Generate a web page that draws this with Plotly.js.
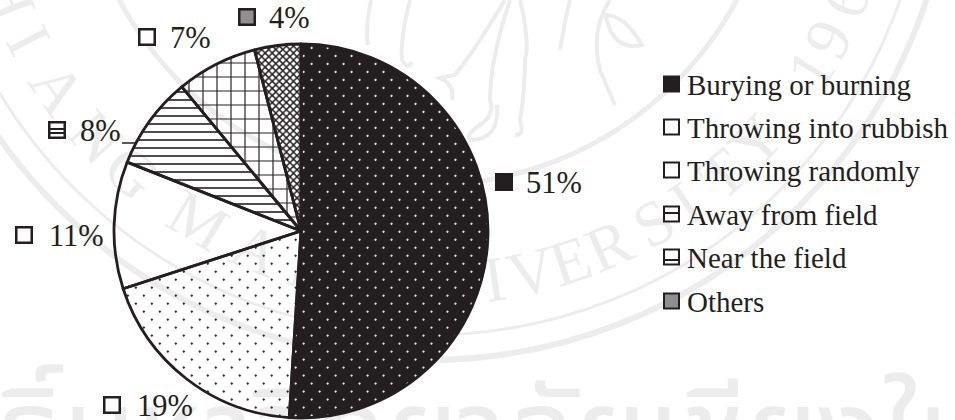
<!DOCTYPE html>
<html><head><meta charset="utf-8">
<script src="https://cdn.plot.ly/plotly-3.0.1.min.js"></script>
<style>html,body{margin:0;padding:0;background:#fff}#chart{width:955px;height:420px}</style>
</head><body><div id="chart"></div>
<script>
const categories = ["Burying or burning","Throwing into rubbish","Throwing randomly","Away from field","Near the field","Others"];
const shares = [51,19,11,8,7,4];
const clear = "rgba(255,255,255,0)";
const ink = "#231f20";
const shapesOfFill = [".",".","","-","+","x"];
const backgrounds = [ink,clear,clear,clear,clear,clear];
const foregrounds = ["#e8e8e8",ink,ink,ink,ink,ink];
const fillSizes = [11.3,11.3,8,8,14,5];
const fillSolidity = [0.03,0.03,0.1,0.2,0.16,0.5];
const labelX = [495,103,15,48,138,238];
const labelTextX = [525,136,48,79,169,268];
const labelY = [182,405,235,130,37,17];
const legendY = [84,127,170,214,257,301];
const serif = "Liberation Serif";
const W = 955, H = 420;

// University seal printed behind the chart
const sealX = 428, sealY = -165, sealInk = "#ececec";
const sealRings = [[525,6],[500,3],[350,5]];
const sealLetters = [["C",-75],["H",-69],["I",-62.8],["A",-55.6],["N",-47.7],["G",-41.3],["M",-30.8],["A",-22.5],["I",-16.5],["U",-8],["N",2],["I",8.5],["V",13.3],["E",18.5],["R",23.8],["S",30.2],["I",35],["T",41],["Y",47],["1",58.5],["9",63],["6",68.5]];
const sealStrokes = [
  "M371 0Q365 30 368 45","M410 0Q400 40 402 60Q408 70 412 62","M505 0Q475 50 455 75L440 78Q455 85 452 100",
  "M510 0Q490 60 490 100Q495 115 480 125Q465 135 470 140Q500 140 497 105",
  "M520 0Q530 40 525 60Q525 90 520 120Q525 135 515 135",
  "M610 0Q590 30 600 70L615 105","M570 0Q565 20 560 50","M605 15Q625 15 642 45Q620 50 610 30Q607 20 605 15"
];
const px = x => x / W, py = y => 1 - y / H;
const annotations = [], shapes = [];

sealRings.forEach(([r,w])=>shapes.push({type:"circle",layer:"below",xref:"paper",yref:"paper",
  x0:px(sealX-r),x1:px(sealX+r),y0:py(sealY+r),y1:py(sealY-r),line:{color:sealInk,width:w},fillcolor:clear}));
sealLetters.forEach(([ch,deg])=>{
  const a = deg*Math.PI/180, cx = sealX+442*Math.sin(a), cy = sealY+442*Math.cos(a);
  shapes.push({type:"rect",layer:"below",xref:"paper",yref:"paper",x0:px(cx-40),x1:px(cx+40),y0:py(cy+40),y1:py(cy-40),
    line:{width:0},fillcolor:clear,
    label:{text:ch,textangle:-deg,textposition:"middle center",font:{family:serif,size:64,color:sealInk}}});
});
sealStrokes.forEach(d=>{
  const p = d.replace(/(-?\d+(?:\.\d+)?)( |,)?(-?\d+(?:\.\d+)?)/g,(m,x,s,y)=>px(+x)+" "+py(+y));
  shapes.push({type:"path",layer:"below",xref:"paper",yref:"paper",path:p,line:{color:sealInk,width:4},fillcolor:clear});
});
shapes.push({type:"rect",layer:"below",xref:"paper",yref:"paper",x0:px(-209),x1:px(991),y0:py(493),y1:py(393),line:{width:0},fillcolor:clear,
  label:{text:"ลิขสิทธิ์มหาวิทยาลัยเชียงใหม่",textposition:"middle center",font:{family:"Noto Sans Thai, Noto Sans, DejaVu Sans",size:120,color:sealInk}}});

function swatch(x, yc, s, lw, fill){
  shapes.push({type:"rect",xref:"paper",yref:"paper",x0:px(x),x1:px(x+s),y0:py(yc+s/2),y1:py(yc-s/2),
    line:{color:ink,width:lw},fillcolor:fill});
}
function bar(x, s, y){
  shapes.push({type:"line",xref:"paper",yref:"paper",x0:px(x),x1:px(x+s),y0:py(y),y1:py(y),line:{color:ink,width:2}});
}
function text(x, yc, t, size){
  annotations.push({xref:"paper",yref:"paper",x:px(x),y:py(yc),xanchor:"left",yanchor:"middle",showarrow:false,
    text:t,font:{family:serif,size:size,color:ink},borderpad:0});
}
shares.forEach((v,i)=>{
  const swFill = i===0?ink:(i===5?"#8f8f8f":"#fff");
  swatch(labelX[i]+1.25,labelY[i],15.5,2.5,swFill);
  text(labelTextX[i],labelY[i]+1,v+"%",30.5);
  swatch(664,legendY[i],15,2,swFill);
  text(686,legendY[i]+1,categories[i],29);
});
bar(664,15,legendY[3]-1);
bar(664,15,legendY[4]+3);
bar(labelX[3]+1,16,labelY[3]-1);
bar(labelX[3]+1,16,labelY[3]+3);
// leader from the 8% label to its slice
shapes.push({type:"line",xref:"paper",yref:"paper",x0:px(122),x1:px(135),y0:py(143),y1:py(143),line:{color:ink,width:1.5}});

Plotly.newPlot("chart",[{
  type:"pie",labels:categories,values:shares,sort:false,direction:"clockwise",rotation:0,
  textinfo:"none",hoverinfo:"label+percent",showlegend:false,
  marker:{colors:backgrounds,line:{color:ink,width:2.8},
    pattern:{shape:shapesOfFill,bgcolor:backgrounds,fgcolor:foregrounds,size:fillSizes,solidity:fillSolidity,fillmode:"replace"}},
  domain:{x:[px(113),px(489)],y:[py(418),py(44)]}
}],{
  width:W,height:H,margin:{l:0,r:0,t:0,b:0},paper_bgcolor:"#fff",plot_bgcolor:clear,
  annotations,shapes
},{displayModeBar:false,staticPlot:true}).then(()=>{
  // stagger the dot rows of the two dotted fills
  document.querySelectorAll("#chart defs pattern").forEach(p=>{
    if(p.querySelector("circle")) p.setAttribute("patternTransform","rotate(45)");
  });
});
</script></body></html>
